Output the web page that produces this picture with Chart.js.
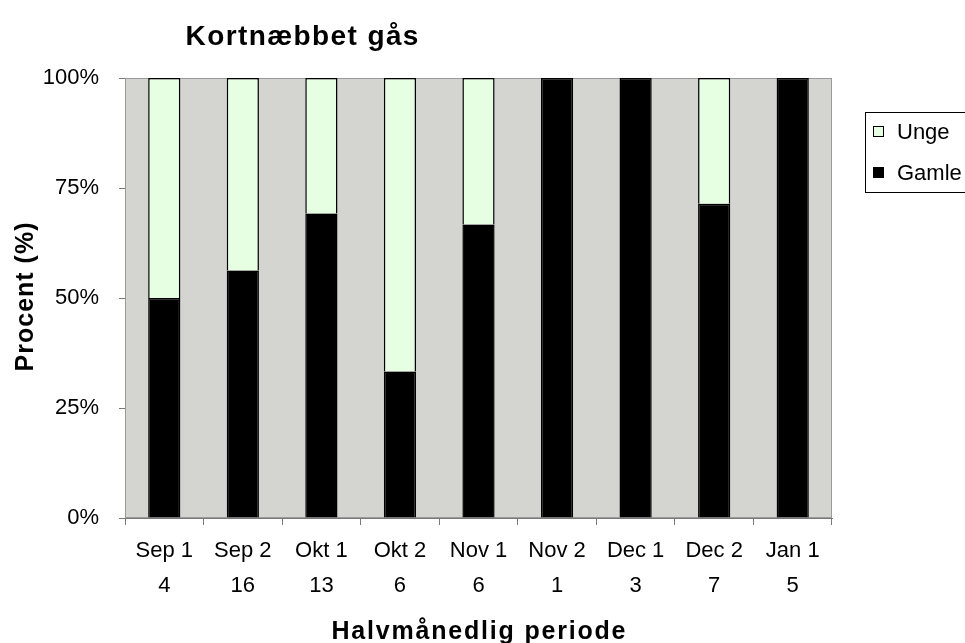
<!DOCTYPE html>
<html>
<head>
<meta charset="utf-8">
<script src="https://cdn.jsdelivr.net/npm/chart.js@4"></script>
<style>
  html,body{margin:0;padding:0;background:#fff;}
  #wrap{width:965px;height:643px;}
</style>
</head>
<body>
<div id="wrap"><canvas id="graf" width="965" height="643"></canvas></div>
<script>
// data
const perioder = ['Sep 1','Sep 2','Okt 1','Okt 2','Nov 1','Nov 2','Dec 1','Dec 2','Jan 1'];
const antal = [4,16,13,6,6,1,3,7,5];
const gamle = [50,56.25,69.2,33.3,66.7,100,100,71.4,100];
const unge = [50,43.75,30.8,66.7,33.3,0,0,28.6,0];
const yTicks = [0,25,50,75,100];

const FONT = 'Liberation Sans, Arial, sans-serif';
const plotBg = 'rgb(212,213,209)';
const ungeFarve = '#e6ffe3';
const akseFarve = '#7a7a7a';

const labels = perioder.map((p,i)=>[p,String(antal[i])]);

function spacedText(ctx,txt,x,y,spacing){
  // tekst med lidt ekstra afstand mellem bogstaverne
  ctx.letterSpacing = spacing+'px';
  const w = ctx.measureText(txt).width - spacing;
  ctx.textAlign = 'left';
  ctx.fillText(txt,x-w/2,y);
  ctx.letterSpacing = '0px';
}

// baggrund, titler og forklaring
const tegnExtra = {
  id:'tegnExtra',
  beforeDatasetsDraw(chart){
    const {ctx,chartArea:a} = chart;
    ctx.save();
    ctx.fillStyle = plotBg;
    ctx.fillRect(a.left,a.top,a.right-a.left,a.bottom-a.top);
    ctx.strokeStyle = '#9a9a9a';
    ctx.lineWidth = 1;
    ctx.strokeRect(a.left+0.5,a.top+0.5,a.right-a.left-1,a.bottom-a.top-1);
    ctx.restore();
  },
  afterDraw(chart){
    const {ctx,chartArea:a} = chart;
    ctx.save();
    ctx.fillStyle = '#000';
    ctx.textBaseline = 'alphabetic';

    ctx.font = 'bold 28px '+FONT;
    spacedText(ctx,'Kortnæbbet gås',302,45,1.4);

    ctx.font = 'bold 25px '+FONT;
    spacedText(ctx,'Halvmånedlig periode',(a.left+a.right)/2,639,1.8);

    ctx.save();
    ctx.translate(33,297);
    ctx.rotate(-Math.PI/2);
    ctx.font = 'bold 25px '+FONT;
    spacedText(ctx,'Procent (%)',0,0,1.0);
    ctx.restore();

    // forklaring
    ctx.strokeStyle = '#000';
    ctx.lineWidth = 1;
    ctx.fillStyle = '#fff';
    ctx.fillRect(865.5,112.5,110,80);
    ctx.strokeRect(865.5,112.5,110,80);
    const rows = [['Unge',ungeFarve,132],['Gamle','#000',173]];
    rows.forEach(r=>{
      ctx.fillStyle = r[1];
      ctx.fillRect(873.5,r[2]-5.5,10,10);
      ctx.strokeStyle = '#000';
      ctx.strokeRect(873.5,r[2]-5.5,10,10);
      ctx.fillStyle = '#000';
      ctx.font = '22px '+FONT;
      ctx.textAlign = 'left';
      ctx.textBaseline = 'middle';
      ctx.fillText(r[0],897,r[2]+1);
    });
    ctx.restore();
  }
};

new Chart(document.getElementById('graf').getContext('2d'),{
  type:'bar',
  data:{
    labels:labels,
    datasets:[
      {label:'Gamle',data:gamle,backgroundColor:'#000',borderColor:'#000',borderWidth:1.5,
       categoryPercentage:1,barPercentage:0.41},
      {label:'Unge',data:unge,backgroundColor:ungeFarve,borderColor:'#000',borderWidth:1.5,
       categoryPercentage:1,barPercentage:0.41}
    ]
  },
  options:{
    responsive:false,
    animation:false,
    layout:{padding:{left:0,top:78,right:133,bottom:0}},
    plugins:{legend:{display:false},tooltip:{enabled:false},title:{display:false}},
    scales:{
      x:{
        stacked:true,
        afterFit(s){ s.height = 125; },
        grid:{display:true,drawOnChartArea:false,drawTicks:true,tickLength:7,color:akseFarve,offset:true},
        border:{display:true,color:akseFarve,width:1},
        ticks:{color:'#000',font:{family:FONT,size:22,lineHeight:1.6},padding:8,maxRotation:0,autoSkip:false},
        title:{display:false}
      },
      y:{
        stacked:true,
        min:0,max:100,
        afterFit(s){ s.width = 125; },
        afterBuildTicks(s){ s.ticks = yTicks.map(v=>({value:v})); },
        grid:{display:true,drawOnChartArea:false,drawTicks:true,tickLength:6,color:akseFarve},
        border:{display:true,color:akseFarve,width:1},
        ticks:{color:'#000',font:{family:FONT,size:22},padding:20,callback:v=>v+'%'},
        title:{display:false}
      }
    }
  },
  plugins:[tegnExtra]
});
</script>
</body>
</html>
